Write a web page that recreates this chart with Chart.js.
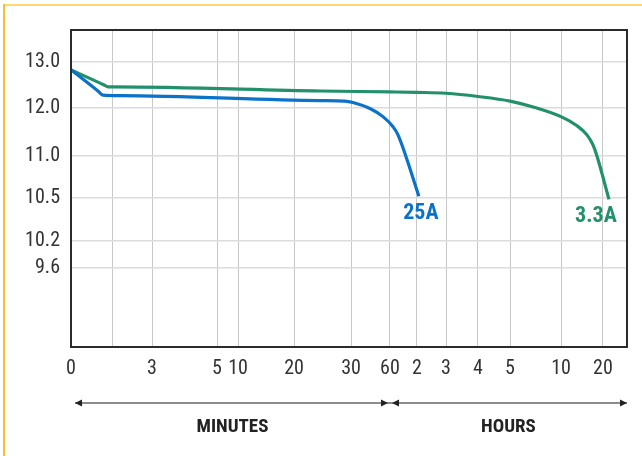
<!DOCTYPE html>
<html>
<head>
<meta charset="utf-8">
<script src="https://cdn.jsdelivr.net/npm/chart.js@4/dist/chart.umd.min.js"></script>
<style>
html,body{margin:0;padding:0;background:#fff;}
#wrap{width:642px;height:456px;position:relative;}
</style>
</head>
<body>
<div id="wrap"><canvas id="c" width="642" height="456"></canvas></div>
<script>
// ---- data ----
const X_TICK_VALUES = [0, 1, 3, 5, 10, 20, 30, 60, 120, 180, 240, 300, 600, 1200, 1500]; // minutes
const X_TICK_LABELS = ['0', '', '3', '5', '10', '20', '30', '60', '2', '3', '4', '5', '10', '20', ''];
const Y_TICK_VALUES = [8.4, 9.6, 10.2, 10.5, 11.0, 12.0, 13.0, 13.7]; // volts
const Y_TICK_LABELS = ['', '9.6', '10.2', '10.5', '11.0', '12.0', '13.0', ''];

const SERIES_NAMES = ['25A', '3.3A'];
const MIN_25A  = [0, 0.64, 0.76, 1.36, 24.6, 28.9, 31.5, 44.6, 54.6, 66.7, 77.8, 124];
const VOLT_25A = [12.83, 12.37, 12.28, 12.27, 12.16, 12.15, 12.12, 11.99, 11.82, 11.61, 11.44, 10.52];
const MIN_33A  = [0, 0.79, 0.88, 1.05, 24.6, 60, 120, 180, 240, 300, 447, 600, 829, 971, 1057, 1114, 1275];
const VOLT_33A = [12.83, 12.50, 12.46, 12.46, 12.37, 12.35, 12.34, 12.32, 12.25, 12.15, 12.01, 11.82, 11.63, 11.44, 11.23, 11.0, 10.49];

const UNIT_LABELS = ['MINUTES', 'HOURS'];
const UNIT_SPLIT = 60; // minutes where the hours section starts

// ---- axis layout (fraction of axis length for each tick value; non-uniform printed scale) ----
const X_TICK_FRAC = [0, 0.0755, 0.1457, 0.2626, 0.3004, 0.4011, 0.5036, 0.5737, 0.6223, 0.6745, 0.7320, 0.7896, 0.8813, 0.9568, 1];
const Y_TICK_FRAC = [0, 0.249, 0.334, 0.470, 0.6025, 0.754, 0.899, 1];

const STOPS = { x: [X_TICK_VALUES, X_TICK_FRAC], y: [Y_TICK_VALUES, Y_TICK_FRAC] };

class PiecewiseScale extends Chart.LinearScale {
  determineDataLimits() {
    const v = STOPS[this.id][0];
    this.min = v[0];
    this.max = v[v.length - 1];
  }
  buildTicks() {
    return STOPS[this.id][0].map(v => ({ value: v }));
  }
  _frac(value) {
    const [v, f] = STOPS[this.id];
    if (value <= v[0]) return f[0];
    for (let i = 1; i < v.length; i++) {
      if (value <= v[i]) {
        return f[i - 1] + (value - v[i - 1]) / (v[i] - v[i - 1]) * (f[i] - f[i - 1]);
      }
    }
    return f[f.length - 1];
  }
  getPixelForValue(value) {
    return this.getPixelForDecimal(this._frac(value));
  }
  getValueForPixel(pixel) {
    const d = this.getDecimalForPixel(pixel);
    const [v, f] = STOPS[this.id];
    for (let i = 1; i < f.length; i++) {
      if (d <= f[i]) return v[i - 1] + (d - f[i - 1]) / (f[i] - f[i - 1]) * (v[i] - v[i - 1]);
    }
    return v[v.length - 1];
  }
}
PiecewiseScale.id = 'piecewise';
PiecewiseScale.defaults = { ticks: {} };
Chart.register(PiecewiseScale);

const BLUE = '#0A72C8';
const GREEN = '#22906B';
const FONT = "'Liberation Sans Narrow', 'Roboto Condensed', 'Liberation Sans', Arial, sans-serif";

const pts = (xs, ys) => xs.map((x, i) => ({ x: x, y: ys[i] }));

const framePlugin = {
  id: 'frame',
  beforeDraw(chart) {
    const ctx = chart.ctx;
    ctx.save();
    ctx.fillStyle = '#fff';
    ctx.fillRect(0, 0, chart.width, chart.height);
    ctx.lineWidth = 2;
    ctx.strokeStyle = '#FFD670';
    ctx.beginPath(); ctx.moveTo(4, 5); ctx.lineTo(chart.width, 5); ctx.stroke();
    ctx.strokeStyle = '#F6C12A';
    ctx.beginPath(); ctx.moveTo(4, 4); ctx.lineTo(4, chart.height); ctx.stroke();
    ctx.restore();
  },
  afterDraw(chart) {
    const ctx = chart.ctx;
    const a = chart.chartArea;
    const xs = chart.scales.x;
    ctx.save();
    // plot box
    ctx.strokeStyle = '#2b2b2b';
    ctx.lineWidth = 2;
    ctx.strokeRect(a.left, a.top, a.right - a.left, a.bottom - a.top);
    // range arrows
    const y = 403;
    const x0 = xs.getPixelForValue(X_TICK_VALUES[0]) + 4;
    const xm = xs.getPixelForValue(UNIT_SPLIT);
    const x1 = a.right;
    ctx.strokeStyle = '#666';
    ctx.lineWidth = 1.5;
    ctx.beginPath(); ctx.moveTo(x0, y); ctx.lineTo(x1, y); ctx.stroke();
    ctx.fillStyle = '#222';
    const head = (tip, dir) => {
      ctx.beginPath();
      ctx.moveTo(tip, y);
      ctx.lineTo(tip - dir * 7, y - 3.5);
      ctx.lineTo(tip - dir * 7, y + 3.5);
      ctx.closePath(); ctx.fill();
    };
    head(x0, -1);
    head(xm - 2, 1);
    head(xm + 2, -1);
    head(x1, 1);
    ctx.fillStyle = '#222';
    ctx.font = "bold 19px " + FONT;
    ctx.textAlign = 'center';
    ctx.textBaseline = 'alphabetic';
    ctx.fillText(UNIT_LABELS[0], (x0 + xm) / 2, 432);
    ctx.fillText(UNIT_LABELS[1], (xm + x1) / 2, 432);
    // series end labels
    const offs = [[2, 23], [-13, 23]];
    chart.data.datasets.forEach((ds, i) => {
      const meta = chart.getDatasetMeta(i);
      const p = meta.data[meta.data.length - 1];
      ctx.fillStyle = ds.borderColor;
      ctx.font = "bold 22px " + FONT;
      ctx.fillText(SERIES_NAMES[i], p.x + offs[i][0], p.y + offs[i][1]);
    });
    ctx.restore();
  }
};

new Chart(document.getElementById('c'), {
  type: 'line',
  data: {
    datasets: [
      { label: SERIES_NAMES[0], data: pts(MIN_25A, VOLT_25A), borderColor: BLUE, borderWidth: 3.2,
        pointRadius: 0, cubicInterpolationMode: 'monotone', fill: false },
      { label: SERIES_NAMES[1], data: pts(MIN_33A, VOLT_33A), borderColor: GREEN, borderWidth: 3.2,
        pointRadius: 0, cubicInterpolationMode: 'monotone', fill: false }
    ]
  },
  options: {
    responsive: false,
    animation: false,
    devicePixelRatio: 1,
    layout: { padding: { left: 0, top: 30, right: 15, bottom: 0 } },
    plugins: { legend: { display: false }, tooltip: { enabled: false } },
    scales: {
      x: {
        type: 'piecewise',
        position: 'bottom',
        border: { display: false },
        grid: { color: '#c9c9c9', lineWidth: 1, drawTicks: false },
        ticks: {
          autoSkip: false, maxRotation: 0, minRotation: 0, padding: 10,
          color: '#333', font: { family: FONT, size: 20 },
          callback: (v, i) => X_TICK_LABELS[i]
        },
        afterFit: (s) => { s.height = 109; }
      },
      y: {
        type: 'piecewise',
        position: 'left',
        border: { display: false },
        grid: { color: '#dcdcdc', lineWidth: 1.5, drawTicks: false },
        ticks: {
          autoSkip: false, padding: 11,
          color: '#333', font: { family: FONT, size: 20 },
          callback: (v, i) => Y_TICK_LABELS[i]
        },
        afterFit: (s) => { s.width = 71; }
      }
    }
  },
  plugins: [framePlugin]
});
</script>
</body>
</html>
